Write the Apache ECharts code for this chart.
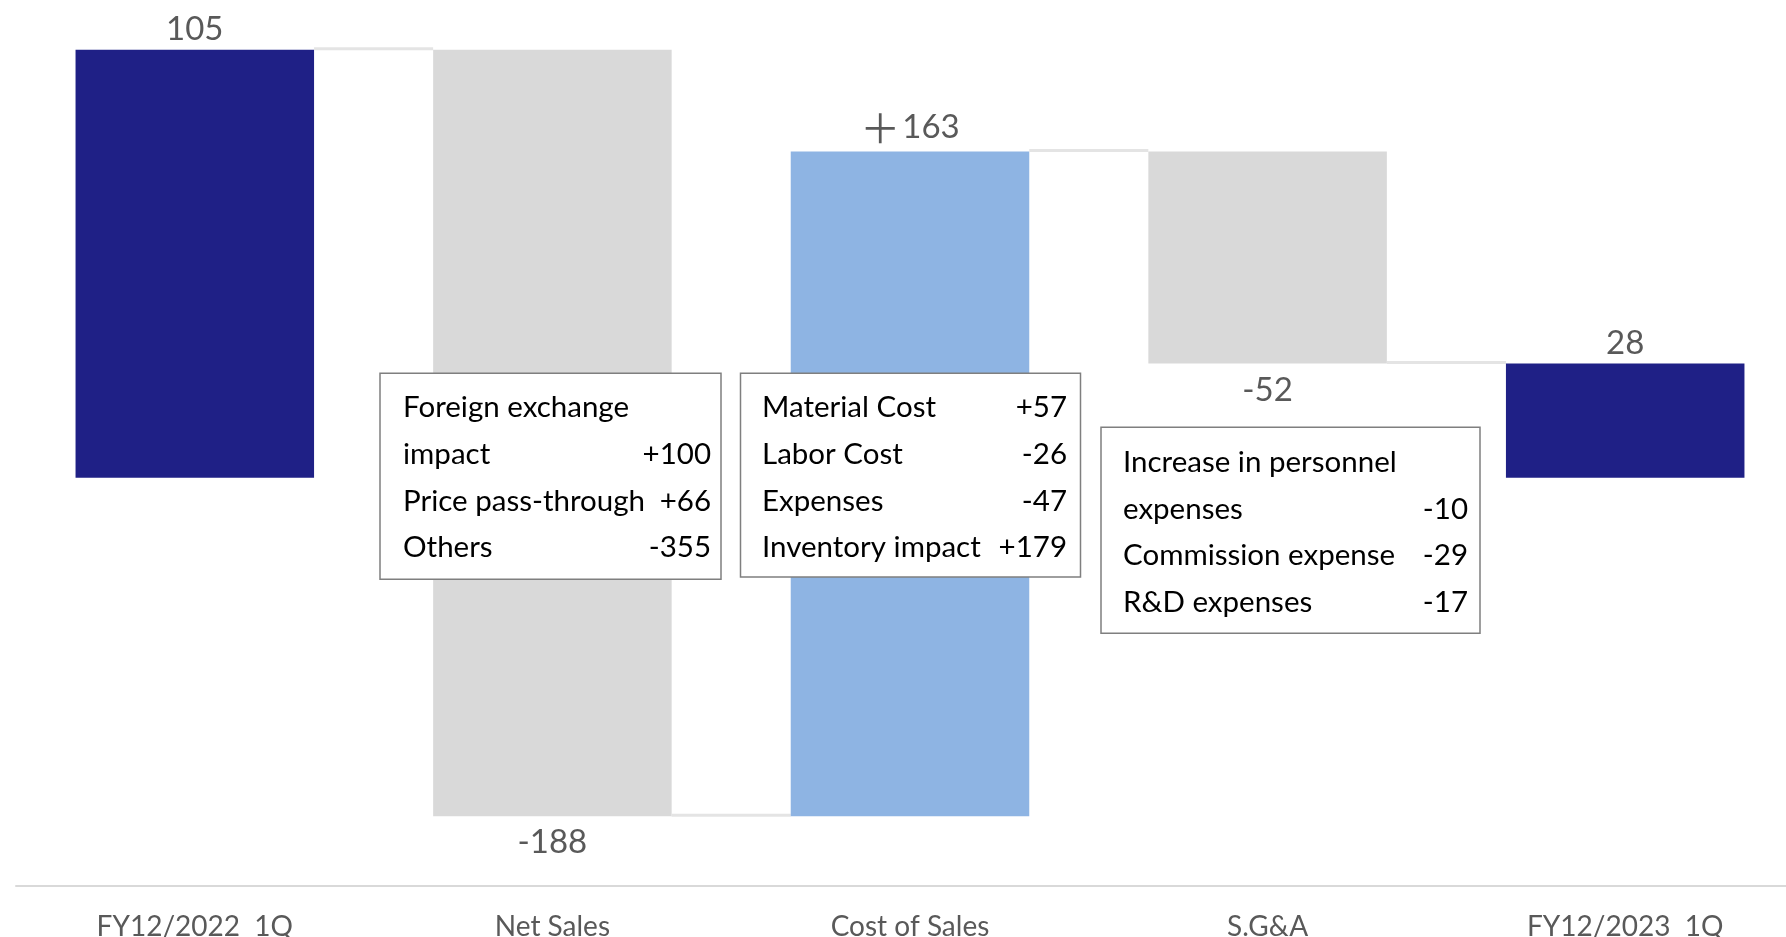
<!DOCTYPE html>
<html>
<head>
<meta charset="utf-8">
<title>Operating income bridge</title>
<script src="https://cdn.jsdelivr.net/npm/echarts@6/dist/echarts.min.js"></script>
<style>
  html, body { margin: 0; padding: 0; background: #ffffff; overflow: hidden; }
  #chart { width: 1804px; height: 937px; }
</style>
</head>
<body>
<div id="chart"></div>
<script>
// Bridge categories and amounts (first and last are totals, the rest are changes)
const categories = ['FY12/2022  1Q', 'Net Sales', 'Cost of Sales', 'S.G&A', 'FY12/2023  1Q'];
const amounts = [105, -188, 163, -52, 28];
const kinds = ['total', 'delta', 'delta', 'delta', 'total'];
const valueLabels = ['105', '-188', '＋163', '-52', '28'];

// Breakdown notes shown beside each change
const netSalesNotes = [['Foreign exchange', ''], ['impact', '+100'], ['Price pass-through', '+66'], ['Others', '-355']];
const costOfSalesNotes = [['Material Cost', '+57'], ['Labor Cost', '-26'], ['Expenses', '-47'], ['Inventory impact', '+179']];
const sgaNotes = [['Increase in personnel', ''], ['expenses', '-10'], ['Commission expense', '-29'], ['R&D expenses', '-17']];

const colors = {
  total: '#1f2086',
  up: '#8eb4e3',
  down: '#d9d9d9',
  connector: '#e4e4e4',
  text: '#595959'
};
const FONT = 'Lato, "Open Sans", sans-serif';

// Floating ranges for each bar
let running = 0;
const ranges = amounts.map((v, i) => {
  let lo, hi, end;
  if (kinds[i] === 'total') {
    lo = Math.min(0, v); hi = Math.max(0, v); end = v; running = v;
  } else {
    const start = running;
    end = start + v;
    lo = Math.min(start, end); hi = Math.max(start, end);
    running = end;
  }
  return [i, lo, hi, end, v];
});

function barColor(i) {
  if (kinds[i] === 'total') return colors.total;
  return amounts[i] > 0 ? colors.up : colors.down;
}

// Full-width plus signs are set in a CJK face, as in the source deck
function labelText(s) {
  return s.charAt(0) === '＋' ? '{p|＋}' + s.slice(1) : s;
}

const BAR_RATIO = 0.667;

const chart = echarts.init(document.getElementById('chart'), null, { renderer: 'canvas' });

chart.setOption({
  animation: false,
  backgroundColor: '#ffffff',
  grid: { left: 16, top: 29.25, right: 0, bottom: 51.5, containLabel: false, outerBoundsMode: 'none' },
  xAxis: {
    type: 'category',
    data: categories,
    axisLine: { show: true, onZero: false, lineStyle: { color: '#d9d9d9', width: 2 } },
    axisTick: { show: false },
    axisLabel: { color: colors.text, fontFamily: FONT, fontSize: 28, margin: 27, interval: 0 },
    splitLine: { show: false }
  },
  yAxis: {
    type: 'value',
    min: -100,
    max: 110,
    show: false,
    splitLine: { show: false }
  },
  series: [{
    type: 'custom',
    data: ranges,
    encode: { x: 0, y: [1, 2] },
    clip: false,
    renderItem: function (params, api) {
      const i = api.value(0);
      const lo = api.value(1);
      const hi = api.value(2);
      const end = api.value(3);
      const v = api.value(4);
      const top = api.coord([i, hi]);
      const bottom = api.coord([i, lo]);
      const w = api.size([1, 0])[0] * BAR_RATIO;
      const children = [{
        type: 'rect',
        shape: { x: top[0] - w / 2, y: top[1], width: w, height: bottom[1] - top[1] },
        style: { fill: barColor(i) }
      }];
      // value label above rising bars, below falling ones
      const rising = v > 0;
      children.push({
        type: 'text',
        style: {
          text: labelText(valueLabels[i]),
          x: top[0],
          y: rising ? top[1] - 4 : bottom[1] + 10,
          fill: colors.text,
          fontFamily: FONT,
          fontSize: 33,
          align: 'center', textAlign: 'center',
          verticalAlign: rising ? 'bottom' : 'top',
          textVerticalAlign: rising ? 'bottom' : 'top',
          rich: {
            p: { fontFamily: '"Noto Sans CJK JP", sans-serif', fontSize: 40, fill: colors.text, padding: [0, 2, 0, 0] }
          }
        },
        z2: 5
      });
      // connector to the next bar at the running level
      if (i < categories.length - 1) {
        const a = api.coord([i, end]);
        const b = api.coord([i + 1, end]);
        children.push({
          type: 'line',
          shape: { x1: a[0] + w / 2, y1: a[1] - 1, x2: b[0] - w / 2, y2: b[1] - 1 },
          style: { stroke: colors.connector, lineWidth: 3 }
        });
      }
      return { type: 'group', children: children };
    }
  }]
});

// Breakdown boxes
function noteBox(notes, box) {
  const rowPitch = 46.7;
  const children = [{
    type: 'rect',
    shape: { x: box.left, y: box.top, width: box.right - box.left, height: box.bottom - box.top },
    style: { fill: '#ffffff', stroke: '#7f7f7f', lineWidth: 1.5 },
    z: 10
  }];
  notes.forEach((row, r) => {
    const y = box.top + box.firstRow + r * rowPitch;
    children.push({
      type: 'text', z: 11,
      style: {
        text: row[0], x: box.textLeft, y: y, fill: '#000000',
        fontFamily: FONT, fontSize: 29.5,
        align: 'left', textAlign: 'left', verticalAlign: 'middle', textVerticalAlign: 'middle'
      }
    });
    if (row[1]) {
      children.push({
        type: 'text', z: 11,
        style: {
          text: row[1], x: box.textRight, y: y, fill: '#000000',
          fontFamily: FONT, fontSize: 29.5,
          align: 'right', textAlign: 'right', verticalAlign: 'middle', textVerticalAlign: 'middle'
        }
      });
    }
  });
  return { type: 'group', children: children };
}

chart.setOption({
  graphic: [
    noteBox(netSalesNotes, { left: 380, top: 373.3, right: 721, bottom: 579.3, firstRow: 34.5, textLeft: 403, textRight: 711 }),
    noteBox(costOfSalesNotes, { left: 740.5, top: 373.3, right: 1080.5, bottom: 577, firstRow: 34.5, textLeft: 762, textRight: 1067 }),
    noteBox(sgaNotes, { left: 1101, top: 427.3, right: 1480, bottom: 633.3, firstRow: 35, textLeft: 1123, textRight: 1468 })
  ]
});
</script>
</body>
</html>
